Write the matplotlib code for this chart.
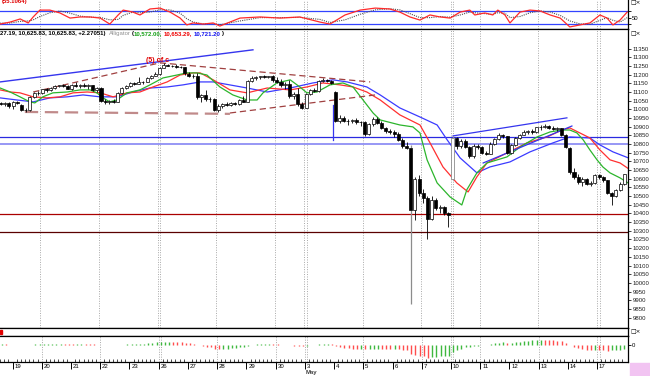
import matplotlib
matplotlib.use("Agg")
import matplotlib.pyplot as plt
import matplotlib.transforms as mtransforms
import numpy as np

plt.rcParams['font.family'] = ['Liberation Sans', 'DejaVu Sans']

# ---------------- data ----------------
# hourly bars, index 0 = first bar of Apr 19 (7 bars per day); -3..-1 = end of Apr 16
bar_index = list(range(-3, 147))
opens = [11035, 11030, 11035,
         11018, 11040, 11025, 10998, 10995, 11070, 11095,
         11095, 11115, 11110, 11125, 11135, 11138, 11132,
         11117, 11140, 11135, 11140, 11132, 11138, 11110,
         11125, 11048, 11040, 11050, 11045, 11095, 11125,
         11134, 11150, 11148, 11155, 11160, 11180, 11195,
         11204, 11240, 11256, 11252, 11250, 11245, 11242,
         11205, 11190, 11195, 11070, 11080, 11058, 11062,
         10995, 11020, 11030, 11025, 11035, 11030, 11055,
         11045, 11165, 11180, 11185, 11190, 11188, 11190,
         11167, 11160, 11140, 11145, 11075, 11090, 11030,
         11010, 11090, 11110, 11105, 11165, 11170, 11165,
         11100, 10935, 10950, 10930, 10935, 10938, 10925,
         10926, 10860, 10915, 10945, 10920, 10890, 10875,
         10868, 10860, 10825, 10790, 10780, 10420, 10600,
         10516, 10490, 10370, 10480, 10430, 10440, 10400,
         10600, 10835, 10790, 10820, 10785, 10730, 10790,
         10785, 10750, 10745, 10800, 10830, 10855, 10845,
         10748, 10795, 10835, 10855, 10870, 10875, 10870,
         10896, 10900, 10905, 10895, 10885, 10890, 10855,
         10780, 10640, 10610, 10580, 10600, 10570, 10578,
         10620, 10610, 10590, 10520, 10500, 10535, 10570]
highs = [11045, 11040, 11040,
         11050, 11048, 11030, 11010, 11075, 11100, 11105,
         11120, 11125, 11130, 11140, 11142, 11145, 11140,
         11145, 11155, 11145, 11150, 11145, 11142, 11130,
         11128, 11060, 11055, 11058, 11100, 11130, 11140,
         11160, 11158, 11185, 11165, 11185, 11200, 11215,
         11245, 11265, 11262, 11258, 11260, 11250, 11245,
         11215, 11205, 11210, 11090, 11112, 11070, 11066,
         11030, 11035, 11040, 11040, 11045, 11060, 11075,
         11170, 11190, 11195, 11195, 11198, 11195, 11196,
         11185, 11175, 11155, 11170, 11100, 11125, 11040,
         11095, 11120, 11125, 11170, 11178, 11175, 11170,
         11105, 10965, 10960, 10945, 10945, 10950, 10935,
         10930, 10920, 10955, 10955, 10930, 10900, 10885,
         10880, 10870, 10835, 10810, 10795, 10610, 10620,
         10540, 10500, 10500, 10490, 10450, 10445, 10410,
         10845, 10840, 10830, 10830, 10790, 10800, 10800,
         10790, 10760, 10810, 10835, 10865, 10860, 10848,
         10800, 10840, 10860, 10880, 10880, 10885, 10900,
         10910, 10915, 10910, 10905, 10900, 10895, 10860,
         10785, 10660, 10625, 10610, 10605, 10585, 10625,
         10630, 10615, 10595, 10525, 10540, 10580, 10630]
lows = [11025, 11020, 11010,
        11000, 11028, 10990, 10985, 10990, 11065, 11085,
        11090, 11100, 11105, 11120, 11130, 11128, 11115,
        11110, 11130, 11125, 11128, 11120, 11105, 11100,
        11040, 11030, 11030, 11035, 11040, 11090, 11115,
        11130, 11140, 11145, 11145, 11155, 11175, 11190,
        11200, 11238, 11248, 11245, 11240, 11238, 11200,
        11185, 11180, 11060, 11045, 11050, 11045, 10990,
        10985, 11010, 11020, 11018, 11025, 11025, 11040,
        11040, 11160, 11170, 11175, 11180, 11180, 11160,
        11150, 11130, 11120, 11065, 11060, 11020, 11000,
        11005, 11085, 11100, 11100, 11160, 11160, 11148,
        10925, 10920, 10925, 10910, 10920, 10915, 10905,
        10845, 10855, 10905, 10915, 10885, 10865, 10860,
        10840, 10820, 10775, 10770, 9880, 10360, 10500,
        10460, 10250, 10360, 10420, 10400, 10390, 10320,
        10590, 10770, 10775, 10780, 10720, 10720, 10770,
        10740, 10735, 10740, 10795, 10825, 10835, 10740,
        10740, 10790, 10830, 10850, 10860, 10860, 10865,
        10880, 10895, 10885, 10880, 10875, 10845, 10780,
        10630, 10600, 10570, 10560, 10565, 10560, 10570,
        10600, 10580, 10515, 10450, 10495, 10530, 10565]
closes = [11030, 11035, 11018,
          11040, 11035, 10998, 10995, 11070, 11095, 11092,
          11115, 11110, 11125, 11135, 11138, 11132, 11117,
          11140, 11135, 11140, 11132, 11138, 11110, 11125,
          11048, 11040, 11050, 11045, 11095, 11125, 11134,
          11150, 11148, 11155, 11160, 11180, 11195, 11204,
          11240, 11258, 11252, 11250, 11245, 11242, 11210,
          11190, 11195, 11070, 11080, 11058, 11062, 10995,
          11020, 11030, 11025, 11035, 11030, 11055, 11045,
          11165, 11180, 11185, 11190, 11188, 11190, 11167,
          11160, 11140, 11145, 11075, 11090, 11030, 11008,
          11090, 11110, 11105, 11165, 11170, 11165, 11151,
          10935, 10950, 10930, 10935, 10938, 10925, 10926,
          10860, 10915, 10945, 10920, 10890, 10875, 10868,
          10860, 10825, 10790, 10780, 10420, 10600, 10516,
          10490, 10370, 10480, 10430, 10440, 10400, 10390,
          10835, 10790, 10820, 10785, 10730, 10790, 10785,
          10750, 10745, 10800, 10830, 10855, 10845, 10748,
          10795, 10835, 10855, 10870, 10875, 10870, 10896,
          10900, 10905, 10895, 10885, 10890, 10855, 10782,
          10640, 10610, 10580, 10600, 10570, 10578, 10620,
          10610, 10590, 10520, 10500, 10535, 10570, 10625]
gray_bars = [95, 105]   # bars drawn in grey in the reference

# Alligator lines (bar index, price)
lips_x = [-3.1, -0.7, 1.65, 4.0, 5.2, 7.1, 9.5, 12.9, 16.0, 18.4, 20.0, 21.5, 23.1, 24.8, 27.2,
          30.3, 32.7, 35.8, 39.2, 41.5, 43.9, 46.3, 49.4, 52.5, 55.9, 58.3, 59.7, 63.0, 66.2,
          68.5, 70.2, 72.6, 75.7, 78.8, 81.2, 83.6, 86.0, 87.7, 92.4, 95.5, 97.2, 98.9, 101.3,
          104.4, 107.2, 108.4, 110.8, 113.2, 118.0, 121.1, 125.2, 128.3, 131.1, 133.0, 134.7,
          136.2, 137.8, 139.5, 140.9, 142.6, 145.0, 146.9]
lips_y = [11123, 11100, 11072, 11043, 11037, 11072, 11095, 11100, 11112, 11112, 11095, 11066,
          11043, 11054, 11095, 11112, 11141, 11181, 11198, 11210, 11210, 11198, 11129, 11083,
          11054, 11054, 11095, 11152, 11170, 11129, 11095, 11100, 11141, 11152, 11129, 11054,
          10979, 10939, 10910, 10899, 10864, 10709, 10576, 10495, 10449, 10537, 10634, 10691,
          10726, 10783, 10841, 10870, 10881, 10881, 10864, 10824, 10766, 10709, 10668, 10634,
          10605, 10576]
teeth_x = [-3.1, -0.7, 1.65, 4.8, 8.1, 11.2, 14.3, 17.7, 20.8, 23.9, 27.2, 30.3, 33.4, 36.8,
           39.9, 43.0, 44.7, 47.8, 51.8, 55.9, 60.7, 66.2, 70.2, 74.0, 78.1, 81.2, 84.5, 87.7,
           92.4, 97.2, 99.6, 102.7, 106.0, 108.7, 110.8, 113.2, 118.0, 122.8, 127.6, 131.1,
           133.0, 135.4, 137.8, 140.2, 142.6, 145.0, 146.9]
teeth_y = [11112, 11100, 11095, 11072, 11066, 11072, 11095, 11100, 11095, 11072, 11095, 11100,
           11129, 11158, 11198, 11210, 11210, 11170, 11112, 11095, 11123, 11112, 11129, 11152,
           11141, 11129, 11100, 11054, 10968, 10910, 10807, 10668, 10576, 10524, 10611, 10691,
           10749, 10807, 10841, 10881, 10893, 10864, 10835, 10766, 10709, 10691, 10660]
jaw_x = [-3.1, 0.9, 4.8, 8.8, 12.9, 16.7, 20.8, 24.8, 28.6, 32.7, 36.8, 40.6, 44.7, 47.8, 55.9,
         60.7, 66.2, 71.6, 76.4, 79.8, 84.5, 87.7, 92.4, 97.2, 101.3, 103.7, 106.8, 110.8, 113.9,
         118.7, 123.5, 129.0, 133.0, 137.8, 140.2, 143.3, 146.9]
jaw_y = [11066, 11054, 11043, 11066, 11072, 11083, 11072, 11072, 11100, 11123, 11129, 11141,
         11158, 11158, 11123, 11100, 11123, 11152, 11170, 11158, 11129, 11083, 11008, 10956,
         10910, 10824, 10720, 10634, 10668, 10697, 10755, 10807, 10841, 10835, 10795, 10755,
         10721]

# stochastic (top panel)
stoch_x = [-3.1, -0.7, 1.7, 3.6, 4.8, 6.4, 8.8, 11.2, 13.6, 16.0, 18.4, 20.8, 23.1, 25.1, 26.3,
           28.6, 30.3, 32.7, 35.1, 37.5, 39.9, 41.5, 43.0, 45.4, 47.8, 49.4, 54.2, 59.0, 63.8,
           68.5, 73.3, 75.7, 79.3, 82.9, 86.5, 90.0, 92.4, 94.8, 97.2, 99.6, 102.0, 104.4, 106.8,
           109.1, 110.3, 112.7, 114.6, 115.8, 117.5, 118.7, 121.1, 123.5, 125.9, 128.3, 130.7,
           133.0, 135.4, 137.8, 140.2, 141.9, 143.3, 145.0, 146.7]
stoch_k = [21, 30, 44, 26, 53, 84, 84, 71, 48, 53, 53, 48, 21, 62, 84, 75, 62, 89, 93, 75, 48, 17,
           26, 21, 26, 12, 48, 53, 48, 53, 30, 21, 62, 84, 93, 89, 75, 53, 39, 62, 53, 48, 75, 84,
           62, 71, 62, 84, 62, 26, 75, 84, 80, 62, 48, 8, 17, 26, 62, 48, 17, 39, 75]
stoch_d = [25, 26, 33, 35, 40, 55, 72, 80, 70, 57, 52, 51, 40, 42, 60, 75, 72, 75, 85, 85, 70, 45,
           30, 22, 23, 18, 35, 50, 50, 51, 42, 28, 40, 65, 85, 90, 85, 68, 50, 50, 55, 52, 62, 75,
           72, 68, 65, 72, 70, 50, 55, 72, 80, 75, 60, 35, 22, 20, 38, 50, 38, 30, 50]

# histogram (lower panel), one value per bar
hist = [0.8, 0.6, 0.5,
        0.4, 0.3, 0.2, 0.1, 0.3, 0.6, 0.8,
        1.0, 1.1, 1.2, 1.3, 1.3, 1.2, 1.0,
        0.9, 1.0, 1.0, 0.9, 0.8, 0.6, 0.5,
        0.2, -0.2, -0.4, -0.3, 0.1, 0.5, 0.9,
        1.1, 1.2, 1.4, 1.5, 1.8, 2.2, 2.6,
        3.0, 3.4, 3.5, 3.4, 3.2, 2.9, 2.4,
        1.9, 1.5, 0.2, -0.8, -1.5, -2.3, -3.5,
        -4.0, -3.8, -3.5, -3.0, -2.5, -2.0, -1.5,
        -0.5, 0.2, 0.6, 0.9, 1.0, 1.0, 0.8,
        0.7, 0.5, 0.3, -0.3, -0.5, -1.0, -1.2,
        -0.6, 0.0, 0.4, 1.0, 1.3, 1.4, 1.2,
        -0.8, -2.0, -2.8, -3.2, -3.5, -3.6, -3.6,
        -4.2, -4.0, -3.7, -3.6, -3.8, -4.0, -4.2,
        -4.0, -4.2, -4.5, -4.8, -8.5, -9.5, -10.5,
        -11.0, -12.5, -12.0, -11.5, -11.2, -10.8, -10.5,
        -7.0, -5.0, -3.5, -2.4, -1.8, -1.0, -0.5,
        0.2, 0.5, 1.0, 1.6, 2.2, 2.6, 2.2,
        2.4, 2.9, 3.4, 4.0, 4.5, 4.9, 5.3,
        5.5, 5.4, 5.2, 4.9, 4.5, 3.8, 2.5,
        0.5, -1.5, -3.0, -3.8, -4.5, -4.8, -4.8,
        -5.0, -5.2, -5.5, -5.2, -4.9, -4.5, -3.6]

day_labels = ['19', '20', '21', '22', '23', '26', '27', '28', '29', '30', '3',
              '4', '5', '6', '7', '10', '11', '12', '13', '14', '17']
bars_per_day = 7
dotted_days = [1, 3, 5, 7, 9, 10, 12, 14, 15, 16, 18, 20]
double_days = [5, 10, 15, 20]

# drawn annotations (bar index, price)
trend_blue_x, trend_blue_y = [-3.1, 57.3], [11158, 11343]
dash_top_x, dash_top_y = [4.8, 35.1, 85.3], [11100, 11268, 11158]
dash_low_x, dash_low_y = [2.8, 51.8], [10985, 10974]
dash_rise_x, dash_rise_y = [51.8, 86.5], [10979, 11083]
wedge_up_x, wedge_up_y = [105.1, 132.3], [10847, 10951]
wedge_lo_x, wedge_lo_y = [112.3, 133.5], [10691, 10904]
vseg_x, vseg_y = [76.4, 76.4], [11025, 10824]
hlines_blue = [10840, 10799]
hlines_red = [10399, 10291]
wave_label = ('(5) of c', 34.6, 11279)
alligator_vals = ['10,572.00,', '10,653.29,', '10,721.20']
ohlc_header = '27.19, 10,625.83, 10,625.83, +2.27051)'

# ---------------- layout ----------------
W, H = 650, 376
fig = plt.figure(figsize=(W / 100, H / 100), dpi=100)
fig.patch.set_facecolor('white')
FS = 4.3


def rect(x0, y0, x1, y1):
    return [x0 / W, 1 - y1 / H, (x1 - x0) / W, (y1 - y0) / H]


XMIN, XMAX = -3.13, 146.9
ax_top = fig.add_axes(rect(0, 0, 628, 29))
ax = fig.add_axes(rect(0, 29, 628, 328))
ax_strip = fig.add_axes(rect(0, 328, 628, 336))
ax_h = fig.add_axes(rect(0, 336, 628, 362))

for a in (ax_top, ax, ax_strip, ax_h):
    a.set_xlim(XMIN, XMAX)
    a.set_facecolor('white')
    for s in a.spines.values():
        s.set_linewidth(0.9)
        s.set_color('black')
    a.spines['left'].set_visible(False)
    a.tick_params(axis='x', which='both', bottom=False, labelbottom=False)

idx = np.array(bar_index)
day_starts = np.arange(len(day_labels)) * bars_per_day - 0.5


def dotted(a):
    for d in dotted_days:
        a.axvline(day_starts[d], color='#a8a8a8', lw=0.7, ls=(0, (1, 1.5)), zorder=0)
        if d in double_days:
            a.axvline(day_starts[d] + 0.6, color='#a8a8a8', lw=0.7, ls=(0, (1, 1.5)), zorder=0)


# ---- top stochastic panel
ax_top.set_ylim(-1.3, 129.5)
dotted(ax_top)
ax_top.axhline(80, color='#3344ff', lw=0.9)
ax_top.axhline(20, color='#3344ff', lw=0.9)
ax_top.plot(stoch_x, stoch_d, color='#505050', lw=0.8, ls=(0, (1, 1)))
ax_top.plot(stoch_x, stoch_k, color='#ff2a2a', lw=0.9)
ax_top.yaxis.tick_right()
ax_top.set_yticks([20, 50, 80])
ax_top.set_yticklabels(['', '50', ''])
ax_top.tick_params(axis='y', length=2, width=0.6, labelsize=FS, pad=1)
ax_top.spines['top'].set_visible(False)

# ---- main price panel
ax.set_ylim(9740, 11463)
dotted(ax)
for v in hlines_blue[:1]:
    ax.axhline(v, color='#2a2ae0', lw=0.9, zorder=1)
for v in hlines_blue[1:]:
    ax.axhline(v, color='#8f8ff5', lw=1.3, zorder=1)
ax.axhline(hlines_red[0], color='#aa0000', lw=0.9, zorder=1)
ax.axhline(hlines_red[1], color='#5a0000', lw=0.9, zorder=1)

o = np.array(opens, float)
hgh = np.array(highs, float)
low = np.array(lows, float)
c = np.array(closes, float)
up = c >= o
gray = np.isin(idx, gray_bars)
bot = np.minimum(o, c)
top = np.maximum(o, c)
ax.vlines(idx[~gray], low[~gray], hgh[~gray], color='black', lw=0.6, zorder=3)
ax.vlines(idx[gray], low[gray], bot[gray], color='#8c8c8c', lw=0.9, zorder=3)
ax.vlines(idx[gray], top[gray], hgh[gray], color='#8c8c8c', lw=0.9, zorder=3)
ht = np.maximum(np.abs(c - o), 2.5)
m_up = up & ~gray
m_dn = ~up & ~gray
ax.bar(idx[m_up], ht[m_up], bottom=bot[m_up], width=0.72, color='white', edgecolor='black', lw=0.5, zorder=4)
ax.bar(idx[m_dn], ht[m_dn], bottom=bot[m_dn], width=0.72, color='black', edgecolor='black', lw=0.5, zorder=4)
ax.bar(idx[gray & up], ht[gray & up], bottom=bot[gray & up], width=0.72, color='white',
       edgecolor='#8c8c8c', lw=0.6, zorder=4)
ax.bar(idx[gray & ~up], ht[gray & ~up], bottom=bot[gray & ~up], width=0.72, color='black',
       edgecolor='black', lw=0.5, zorder=4)

ax.plot(jaw_x, jaw_y, color='#3b3bff', lw=0.9, zorder=2)
ax.plot(teeth_x, teeth_y, color='#ff3030', lw=0.9, zorder=2)
ax.plot(lips_x, lips_y, color='#2cb52c', lw=0.9, zorder=2)

ax.plot(trend_blue_x, trend_blue_y, color='#3535ee', lw=1.0, zorder=2)
ax.plot(dash_top_x, dash_top_y, color='#a04040', lw=0.9, ls=(0, (5, 3)), zorder=2)
ax.plot(dash_low_x, dash_low_y, color='#c08a8a', lw=1.6, ls=(0, (6, 3)), zorder=2)
ax.plot(dash_rise_x, dash_rise_y, color='#a04040', lw=0.9, ls=(0, (5, 3)), zorder=2)
ax.plot(wedge_up_x, wedge_up_y, color='#3535ee', lw=0.9, zorder=2)
ax.plot(wedge_lo_x, wedge_lo_y, color='#3535ee', lw=0.9, zorder=2)
ax.plot(vseg_x, vseg_y, color='#3535ee', lw=0.9, zorder=2)
ax.text(wave_label[1], wave_label[2], wave_label[0], color='#e00000', fontsize=5.0,
        ha='center', va='center', fontweight='bold', zorder=5)

ax.yaxis.tick_right()
ax.set_yticks(np.arange(9800, 11351, 50))
ax.set_yticklabels([str(v) for v in np.arange(9800, 11351, 50)])
ax.tick_params(axis='y', length=2.5, width=0.6, labelsize=FS, pad=0.8, colors='#202020')

# header text, pieces chained left to right
hy = 1 - 33.5 / H
t = fig.text(0.5 / W, hy, ohlc_header, fontsize=FS, fontweight='bold', va='center', ha='left')
pieces = [('Alligator', '#909090', 'normal', 2.0), ('(', 'black', 'bold', 1.0),
          (alligator_vals[0], '#16a016', 'bold', 0.0), (alligator_vals[1], '#ee0000', 'bold', 1.2),
          (alligator_vals[2], '#1010ee', 'bold', 1.2), (')', 'black', 'bold', 0.0)]
prev = t
for txt, col, fw, gap in pieces:
    prev = ax.annotate(txt, xy=(1, 0.5), xycoords=prev, xytext=(gap, 0), textcoords='offset points',
                       fontsize=FS, fontweight=fw, color=col, va='center', ha='left',
                       annotation_clip=False)
fig.text(2 / W, 1 - 1.5 / H, '(55.1064)', fontsize=FS, fontweight='bold', color='#e00000', va='center')

# window icons
for yy in (3, 33.5, 332):
    fig.text(630 / W, 1 - yy / H, '\u25a1\u00d7', fontsize=4.2, family='DejaVu Sans', va='center', ha='left')

# ---- strip panel
ax_strip.set_ylim(0, 1)
ax_strip.set_yticks([])
ax_strip.add_patch(plt.Rectangle((XMIN, 0.25), 0.5, 0.5, color='#e00000'))

# ---- histogram panel
ax_h.set_ylim(-17, 9)
dotted(ax_h)
hv = np.array(hist)
prevv = np.concatenate([[hv[0]], hv[:-1]])
cols = np.where(hv >= prevv, '#3fb83f', '#ff4d4d')
ax_h.vlines(idx, 0, hv, colors=cols, lw=1.0)
ax_h.yaxis.tick_right()
ax_h.set_yticks([0])
ax_h.set_yticklabels(['0'])
ax_h.tick_params(axis='y', length=2, width=0.6, labelsize=FS, pad=1)

ax_h.tick_params(axis='x', which='both', bottom=True)
ax_h.set_xticks(day_starts)
ax_h.set_xticks(np.array(bar_index) - 0.5, minor=True)
ax_h.tick_params(axis='x', which='major', direction='out', length=5, width=0.7)
ax_h.tick_params(axis='x', which='minor', direction='in', length=2, width=0.5)
tr = mtransforms.blended_transform_factory(ax_h.transData, ax_h.transAxes)
for ds, lab in zip(day_starts, day_labels):
    ax_h.text(ds + 0.45, -0.16, lab, transform=tr, fontsize=FS, va='center', ha='left', clip_on=False)
ax_h.text(day_starts[10] + 0.3, -0.39, 'May', transform=tr, fontsize=FS, fontweight='bold',
          color='#404040', va='center', ha='left', clip_on=False)

# pink corner box
fig.patches.append(plt.Rectangle((630 / W, 0), 20 / W, 13 / H, transform=fig.transFigure,
                                 color='#f2c4f2', zorder=0))

fig.savefig('out.png', dpi=100, facecolor='white')
